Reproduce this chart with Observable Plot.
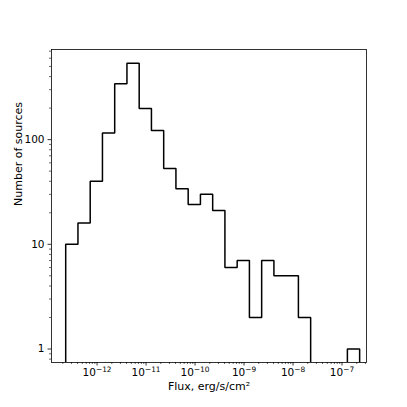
<!DOCTYPE html>
<html>
<head>
<meta charset="utf-8">
<script src="https://cdn.jsdelivr.net/npm/d3@7"></script>
<script src="https://cdn.jsdelivr.net/npm/@observablehq/plot@0.6"></script>
<style>
  html, body { margin: 0; padding: 0; background: #fff; }
  #chart { width: 407px; height: 407px; }
</style>
</head>
<body>
<div id="chart"></div>
<script>
// ---- data ----
const binEdgeExponents = [-12.64, -12.39, -12.14, -11.89, -11.64, -11.39, -11.14, -10.89,
  -10.64, -10.39, -10.14, -9.89, -9.64, -9.39, -9.14, -8.89, -8.64, -8.39, -8.14,
  -7.89, -7.64, -7.39, -7.14, -6.89, -6.64];
const counts = [10, 16, 40, 116, 341, 537, 198, 122, 53, 34, 24, 30, 21, 6, 7, 2, 7, 5, 5, 2, 0, 0, 0, 1];
const xTickExponents = [-12, -11, -10, -9, -8, -7];
const yTickValues = [1, 10, 100];
const xDomainExponents = [-12.93, -6.5];
const yDomain = [0.743, 726];
const xLabel = "Flux, erg/s/cm²";
const yLabel = "Number of sources";

// ---- derived ----
const edges = binEdgeExponents.map(e => Math.pow(10, e));
const floor = yDomain[0] / 10; // below the frame, clipped away
const path = [];
path.push({x: edges[0], y: floor});
counts.forEach((c, i) => {
  const v = c > 0 ? c : floor;
  path.push({x: edges[i], y: v});
  path.push({x: edges[i + 1], y: v});
});
path.push({x: edges[edges.length - 1], y: floor});

const xDomain = xDomainExponents.map(e => Math.pow(10, e));
const xMajor = xTickExponents.map(e => Math.pow(10, e));
const xMinor = [];
for (let d = -14; d <= -6; d++) for (let k = 2; k <= 9; k++) {
  const v = k * Math.pow(10, d);
  if (v >= xDomain[0] && v <= xDomain[1]) xMinor.push(v);
}
const yMinor = [];
for (let d = -1; d <= 3; d++) for (let k = 2; k <= 9; k++) {
  const v = k * Math.pow(10, d);
  if (v >= yDomain[0] && v <= yDomain[1]) yMinor.push(v);
}
const fmtPow = v => "10^" + String(Math.round(Math.log10(v))).replace("-", "\u2212");

const chart = Plot.plot({
  width: 407,
  height: 407,
  marginLeft: 51,
  marginRight: 41,
  marginTop: 49,
  marginBottom: 45,
  style: {fontFamily: "DejaVu Sans, sans-serif", fontSize: "10px", color: "#000", background: "#fff"},
  x: {type: "log", domain: xDomain},
  y: {type: "log", domain: yDomain},
  marks: [
    Plot.line(path, {x: "x", y: "y", stroke: "#000", strokeWidth: 1.5, clip: true, strokeLinejoin: "miter"}),
    Plot.frame({stroke: "#000", strokeWidth: 0.8}),
    Plot.axisX(xMajor, {tickSize: 3.5, tickPadding: 3, tickFormat: fmtPow, label: null, fontSize: 10.5, strokeWidth: 0.8}),
    Plot.axisX(xMinor, {tickSize: 2, tickFormat: () => "", label: null, strokeWidth: 0.6}),
    Plot.axisY(yTickValues, {tickSize: 3.5, tickPadding: 3.5, tickFormat: d => String(d), label: null, fontSize: 10.5, strokeWidth: 0.8}),
    Plot.axisY(yMinor, {tickSize: 2, tickFormat: () => "", label: null, strokeWidth: 0.6}),
    Plot.text([xLabel], {frameAnchor: "bottom", dy: 24, text: d => d, fontSize: 11, lineAnchor: "middle"}),
    Plot.text([yLabel], {frameAnchor: "left", dx: -33, rotate: -90, text: d => d, fontSize: 11, lineAnchor: "middle"})
  ]
});

// turn "10^−12" labels into base + superscript tspans (mathtext-like)
chart.querySelectorAll("text").forEach(t => {
  const s = t.textContent;
  const m = /^10\^(.+)$/.exec(s);
  if (!m) return;
  t.textContent = "";
  const ns = "http://www.w3.org/2000/svg";
  const base = document.createElementNS(ns, "tspan");
  base.textContent = "10";
  const supEl = document.createElementNS(ns, "tspan");
  supEl.textContent = m[1];
  supEl.setAttribute("font-size", "7.4");
  supEl.setAttribute("dy", "-4.2");
  t.appendChild(base);
  t.appendChild(supEl);
});

document.getElementById("chart").appendChild(chart);
</script>
</body>
</html>
